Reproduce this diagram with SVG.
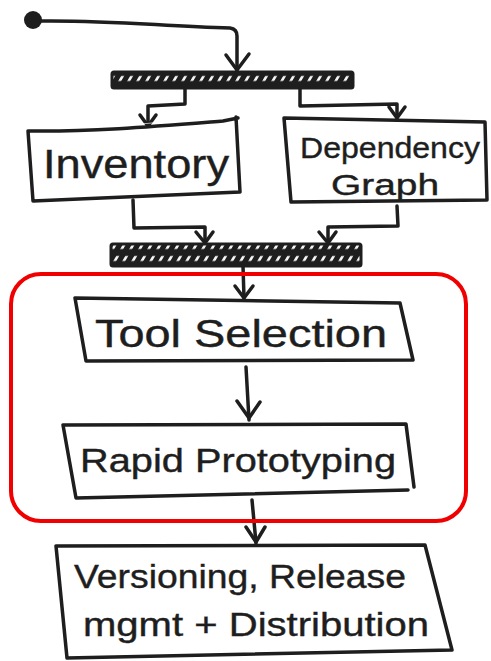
<svg xmlns="http://www.w3.org/2000/svg" width="491" height="661" viewBox="0 0 491 661">
<style>
.ln{fill:none;stroke:#1e1e1e;stroke-width:3.5;stroke-linecap:round;stroke-linejoin:round}
.bx{fill:#fff;stroke:#1e1e1e;stroke-width:3.5;stroke-linejoin:round;stroke-linecap:round}
.tx{font-family:"Liberation Sans","DejaVu Sans",sans-serif;fill:#1e1e1e;stroke:#1e1e1e;stroke-width:0.4}
.bar{fill:url(#hatch);stroke:#1e1e1e;stroke-width:3;stroke-linejoin:round}
</style>
<defs>
<pattern id="hatch" patternUnits="userSpaceOnUse" width="9" height="12" patternTransform="skewX(-30)">
<rect width="9" height="12" fill="#1e1e1e"/>
<rect x="3" y="4" width="3" height="5" fill="#f4f4f4"/>
</pattern>
</defs>

<g id="start">
<circle cx="33" cy="20" r="9" fill="#1e1e1e"/>
</g>

<g id="fork">
<rect class="bar" x="112" y="72" width="241" height="16" rx="2"/>
</g>
<g id="join">
<rect class="bar" x="111" y="244" width="250" height="22" rx="2"/>
</g>

<g id="connectors">
<path class="ln" d="M40,21 C110,20 160,26 230,28 Q237,29 237,36 L237,70"/>
<path class="ln" d="M226,55 L237,70 L249,54"/>
<path class="ln" d="M185,88 L185,104 L148,106 L148,126"/>
<path class="ln" d="M140,115 L148,126 L156,115"/>
<path class="ln" d="M300,88 L300,106 L397,104 L397,118"/>
<path class="ln" d="M389,107 L397,118 L405,107"/>
<path class="ln" d="M133,200 L134,228 L205,227 L205,243"/>
<path class="ln" d="M196,232 L205,243 L213,232"/>
<path class="ln" d="M397,206 L398,226 L328,227 L328,243"/>
<path class="ln" d="M319,232 L328,243 L336,232"/>
<path class="ln" d="M243,266 L244,298"/>
<path class="ln" d="M235,286 L244,298 L253,286"/>
<path class="ln" d="M246,367 L249,420"/>
<path class="ln" d="M237,401 L249,418 L260,402"/>
<path class="ln" d="M252,500 L256,543"/>
<path class="ln" d="M246,527 L256,542 L265,527"/>
</g>

<g id="inventory">
<path class="bx" d="M28,131 C90,132 160,126 223,121 L238,118 M236,117 L240,192 L33,201 L28,131"/>
<text class="tx" x="136" y="178" font-size="40" text-anchor="middle" textLength="186" lengthAdjust="spacingAndGlyphs">Inventory</text>
</g>

<g id="dependency">
<path class="bx" d="M284,118 L485,122 L487,200 L291,202 Z"/>
<text class="tx" x="390" y="158" font-size="29" text-anchor="middle" textLength="180" lengthAdjust="spacingAndGlyphs">Dependency</text>
<text class="tx" x="385" y="195" font-size="29" text-anchor="middle" textLength="108" lengthAdjust="spacingAndGlyphs">Graph</text>
</g>

<g id="tool-selection">
<path class="bx" d="M75,298 L400,303 L413,360 L86,361 Z"/>
<text class="tx" x="241" y="347" font-size="38" text-anchor="middle" textLength="292" lengthAdjust="spacingAndGlyphs">Tool Selection</text>
</g>

<g id="rapid-prototyping">
<path class="bx" d="M63,425 L406,424 L414,487 M408,490 L76,498 L63,425"/>
<text class="tx" x="238" y="472" font-size="34" text-anchor="middle" textLength="316" lengthAdjust="spacingAndGlyphs">Rapid Prototyping</text>
</g>

<g id="versioning">
<path class="bx" d="M56,546 L425,545 L452,650 L67,658 Z"/>
<text class="tx" x="240" y="588" font-size="34" text-anchor="middle" textLength="332" lengthAdjust="spacingAndGlyphs">Versioning, Release</text>
<text class="tx" x="256" y="636" font-size="34" text-anchor="middle" textLength="346" lengthAdjust="spacingAndGlyphs">mgmt + Distribution</text>
</g>

<g id="highlight">
<rect x="11" y="274" width="455" height="247" rx="30" fill="none" stroke="#f00000" stroke-width="4"/>
</g>
</svg>
